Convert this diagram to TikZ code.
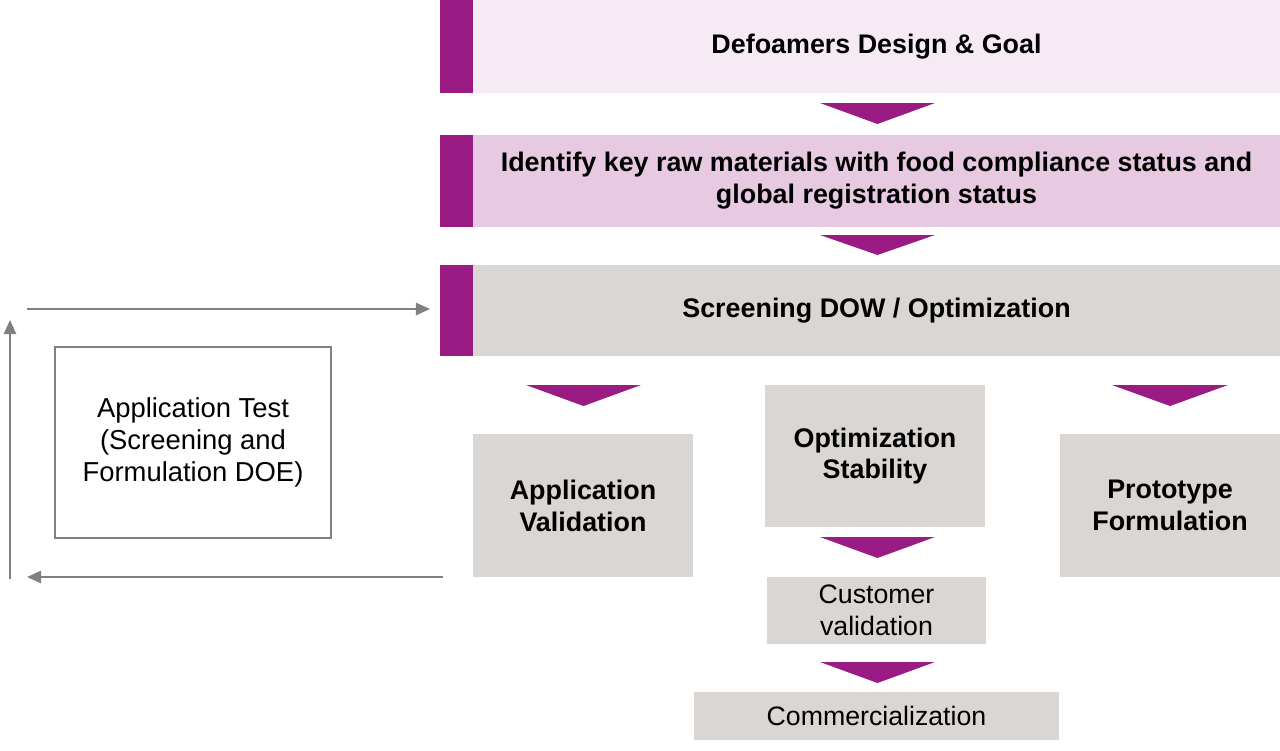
\documentclass[tikz,border=0pt]{standalone}
\usepackage{fontspec}
\setmainfont{Liberation Sans}
\usetikzlibrary{arrows.meta}
\definecolor{purp}{HTML}{9B1B84}
\definecolor{pinkA}{HTML}{F6EBF4}
\definecolor{pinkB}{HTML}{E7C9E2}
\definecolor{greyF}{HTML}{D9D6D3}
\definecolor{lineG}{HTML}{808080}
\tikzset{
  bar/.style={fill=#1, draw=none, inner sep=0pt, align=center, font=\fontsize{15.3}{18.1}\selectfont\bfseries},
  accent/.style={fill=purp, draw=none, inner sep=0pt, minimum width=0.66cm},
  gbox/.style={fill=greyF, draw=none, inner sep=0pt, align=center, minimum width=4.4cm},
  bfont/.style={font=\fontsize{15.3}{18.1}\selectfont\bfseries},
  rfont/.style={font=\fontsize{15.2}{18.1}\selectfont},
  tri/.style={fill=purp, draw=none},
  loop/.style={draw=lineG, line width=1.1pt, -{Triangle[length=8pt,width=7pt]}}
}
\begin{document}
\begin{tikzpicture}[x=0.02cm,y=-0.02cm]
\useasboundingbox (0,0) rectangle (1280,750);
% bars
\node[bar=pinkA, minimum width=16.14cm, minimum height=1.86cm] (b1) at (876.5,46.5) {Defoamers Design \& Goal};
\node[accent, minimum height=1.86cm] (a1) at (456.5,46.5) {};
\node[bar=pinkB, minimum width=16.14cm, minimum height=1.84cm] (b2) at (876.5,181) {Identify key raw materials with food compliance status and\\global registration status};
\node[accent, minimum height=1.84cm] (a2) at (456.5,181) {};
\node[bar=greyF, minimum width=16.14cm, minimum height=1.82cm] (b3) at (876.5,310.5) {Screening DOW / Optimization};
\node[accent, minimum height=1.82cm] (a3) at (456.5,310.5) {};
% grey boxes
\node[gbox, bfont, minimum height=2.86cm] (av) at (583,505.5) {Application\\Validation};
\node[gbox, bfont, minimum height=2.84cm] (os) at (875,456) {Optimization\\Stability};
\node[gbox, bfont, minimum height=2.86cm] (pf) at (1170,505.5) {Prototype\\Formulation};
\node[gbox, rfont, minimum width=4.38cm, minimum height=1.34cm] (cv) at (876.5,610.5) {Customer\\validation};
\node[gbox, rfont, minimum width=7.3cm, minimum height=0.96cm] (cm) at (876.5,716) {Commercialization};
% application test
\node[draw=lineG, line width=1.1pt, minimum width=5.52cm, minimum height=3.82cm, align=center, inner sep=0pt,
  font=\fontsize{15.6}{18.1}\selectfont] (at) at (193,442.5) {Application Test\\(Screening and\\Formulation DOE)};
% triangles
\fill[tri] (820,103) -- (935,103) -- (877.5,124) -- cycle;
\fill[tri] (820,235) -- (935,235) -- (877.5,255) -- cycle;
\fill[tri] (526,385) -- (641,385) -- (583.5,406) -- cycle;
\fill[tri] (1112,385) -- (1228,385) -- (1170,406) -- cycle;
\fill[tri] (820,537) -- (935,537) -- (877.5,558) -- cycle;
\fill[tri] (820,662) -- (935,662) -- (877.5,683) -- cycle;
% loop arrows
\coordinate (t1) at (27,309);
\coordinate (t2) at (430,309);
\coordinate (l1) at (443,577);
\coordinate (l2) at (27,577);
\coordinate (v1) at (10,579);
\coordinate (v2) at (10,320);
\draw[loop] (t1) -- (t2);
\draw[loop] (l1) -- (l2);
\draw[loop] (v1) -- (v2);
\end{tikzpicture}
\end{document}
